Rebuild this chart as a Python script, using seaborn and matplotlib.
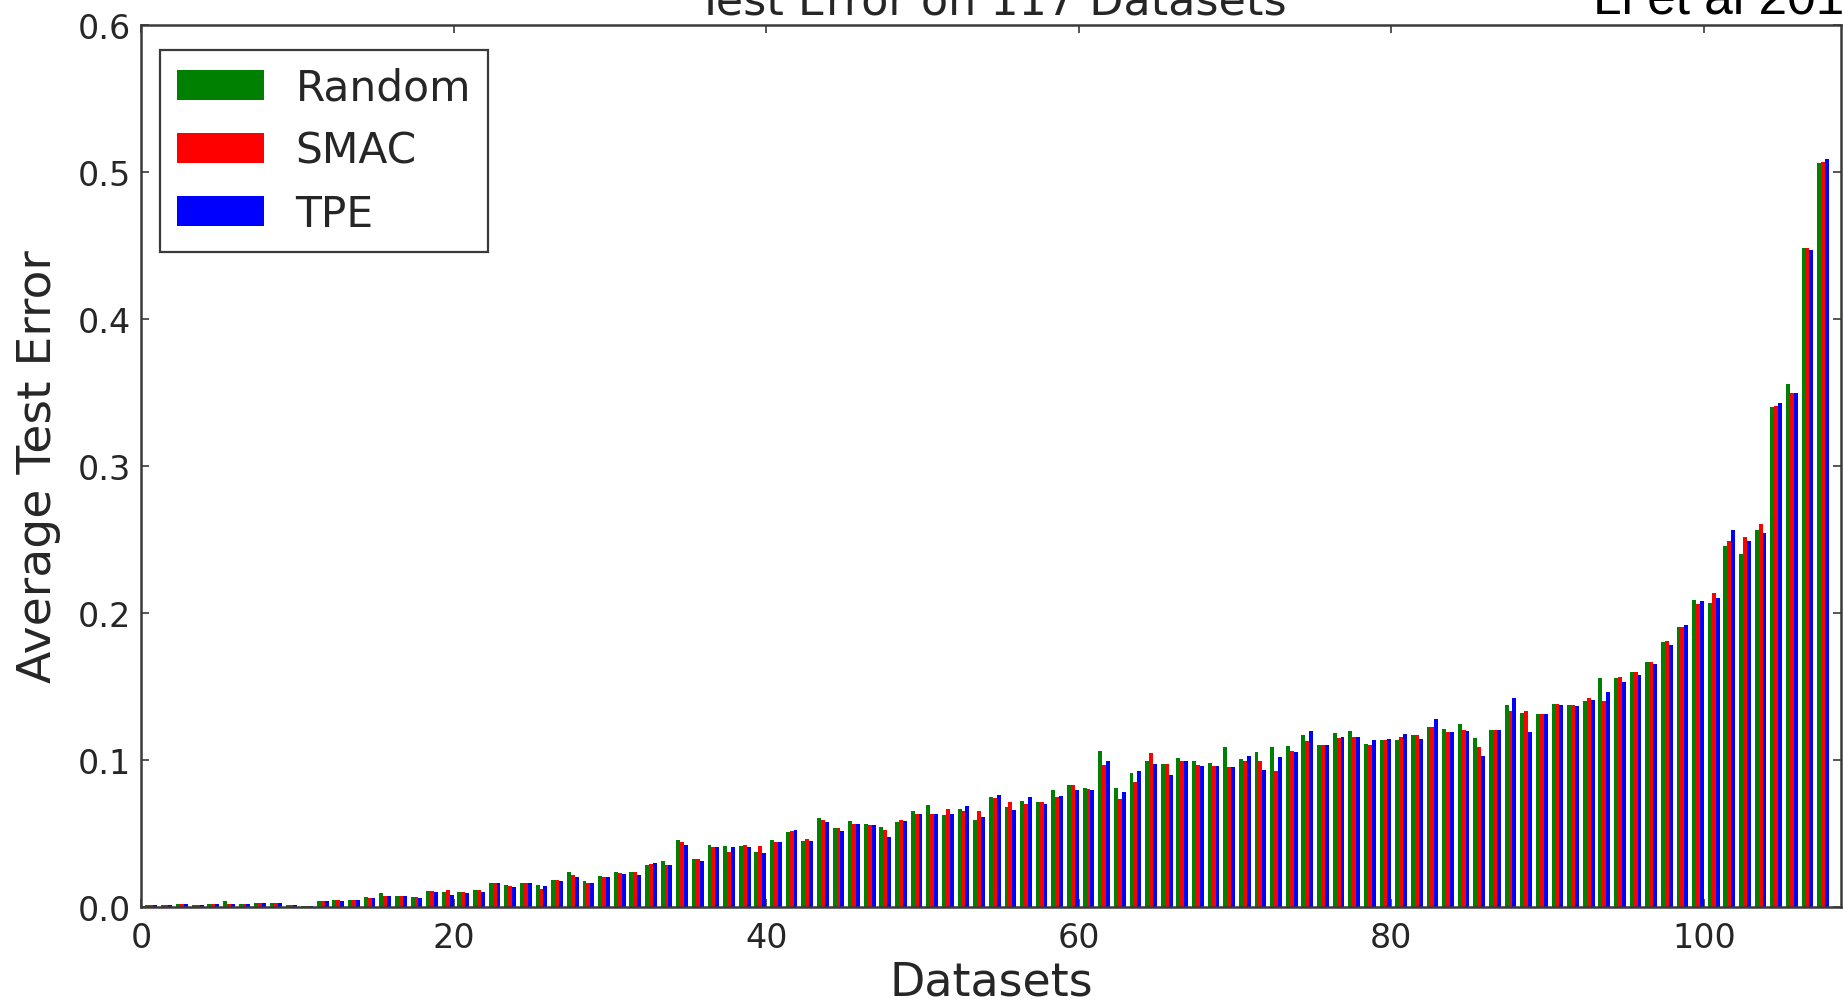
import numpy as np
import pandas as pd
import matplotlib
matplotlib.use("Agg")
import matplotlib.pyplot as plt
import seaborn as sns

# ---------------- data ----------------
methods = ["Random", "SMAC", "TPE"]
colors = ["#008000", "#ff0000", "#0000ff"]
dataset_idx = list(range(1, 109))

random_err = [
    0.0015, 0.0015, 0.002, 0.0012, 0.002, 0.004, 0.0018, 0.003, 0.003, 0.0015,
    0.001, 0.004, 0.0045, 0.0045, 0.0065, 0.0098, 0.0075, 0.007, 0.011, 0.0105,
    0.0102, 0.0116, 0.016, 0.0152, 0.0164, 0.0148, 0.0186, 0.0239, 0.0177, 0.021,
    0.0239, 0.0239, 0.0284, 0.0316, 0.0455, 0.0325, 0.042, 0.0416, 0.0416, 0.0375,
    0.0455, 0.0507, 0.045, 0.0605, 0.0536, 0.0586, 0.0564, 0.0545, 0.058, 0.065,
    0.0695, 0.0627, 0.0664, 0.0595, 0.0745, 0.0682, 0.0723, 0.0711, 0.0795, 0.0832,
    0.0809, 0.106, 0.0809, 0.0909, 0.0995, 0.0973, 0.1014, 0.0995, 0.0977, 0.1086,
    0.1007, 0.1052, 0.1086, 0.1095, 0.117, 0.1105, 0.1182, 0.1195, 0.111, 0.1136,
    0.1136, 0.117, 0.1227, 0.1209, 0.1243, 0.1152, 0.1205, 0.1375, 0.1318, 0.1311,
    0.138, 0.1375, 0.1402, 0.1561, 0.1561, 0.1598, 0.167, 0.1802, 0.1902, 0.209,
    0.207, 0.2456, 0.2404, 0.2566, 0.340, 0.356, 0.448, 0.506,
]
smac_err = [
    0.0015, 0.0015, 0.002, 0.0012, 0.002, 0.002, 0.0018, 0.003, 0.003, 0.0015,
    0.001, 0.004, 0.0045, 0.0045, 0.006, 0.0075, 0.0078, 0.0068, 0.011, 0.0116,
    0.0102, 0.0114, 0.0166, 0.0143, 0.0166, 0.0125, 0.0186, 0.022, 0.0166, 0.0205,
    0.0234, 0.0239, 0.0295, 0.0284, 0.0439, 0.0325, 0.041, 0.0375, 0.042, 0.0415,
    0.0439, 0.0514, 0.0461, 0.0591, 0.0536, 0.0564, 0.0559, 0.0523, 0.059, 0.0636,
    0.0632, 0.0666, 0.065, 0.065, 0.0741, 0.0711, 0.07, 0.0711, 0.075, 0.083,
    0.0802, 0.0968, 0.0734, 0.0848, 0.1045, 0.0973, 0.0991, 0.0968, 0.0961, 0.095,
    0.0995, 0.0995, 0.0927, 0.1064, 0.1132, 0.1105, 0.115, 0.1155, 0.110, 0.1138,
    0.1159, 0.117, 0.1227, 0.1193, 0.1205, 0.1091, 0.1205, 0.1334, 0.133, 0.1311,
    0.138, 0.1375, 0.142, 0.1398, 0.1568, 0.1602, 0.167, 0.1811, 0.1902, 0.206,
    0.2136, 0.249, 0.252, 0.2606, 0.341, 0.350, 0.448, 0.507,
]
tpe_err = [
    0.0015, 0.0015, 0.002, 0.0012, 0.002, 0.0022, 0.0018, 0.0028, 0.0028, 0.0015,
    0.001, 0.0038, 0.0042, 0.0045, 0.006, 0.0075, 0.0075, 0.006, 0.0105, 0.008,
    0.0098, 0.0102, 0.016, 0.0136, 0.0166, 0.0143, 0.018, 0.0205, 0.0166, 0.0205,
    0.0227, 0.022, 0.03, 0.0289, 0.0425, 0.0311, 0.0407, 0.041, 0.041, 0.037,
    0.0445, 0.0523, 0.045, 0.0575, 0.0514, 0.0564, 0.0559, 0.0473, 0.0586, 0.0632,
    0.0632, 0.0632, 0.0684, 0.0609, 0.0764, 0.0659, 0.075, 0.07, 0.0757, 0.0795,
    0.0795, 0.0995, 0.0784, 0.0927, 0.0973, 0.09, 0.0991, 0.0961, 0.0957, 0.095,
    0.103, 0.0932, 0.1023, 0.1052, 0.1195, 0.1105, 0.1155, 0.1159, 0.1138, 0.1143,
    0.1175, 0.1143, 0.1277, 0.1193, 0.1198, 0.103, 0.1205, 0.142, 0.1193, 0.1311,
    0.1375, 0.1364, 0.1409, 0.1461, 0.1534, 0.1575, 0.1652, 0.1784, 0.1916, 0.208,
    0.210, 0.2568, 0.249, 0.2544, 0.343, 0.350, 0.447, 0.509,
]
xticks = [0, 20, 40, 60, 80, 100]
yticks = [0.0, 0.1, 0.2, 0.3, 0.4, 0.5, 0.6]

# ---------------- build long table ----------------
group_width = 0.75
n = len(dataset_idx)
df = pd.DataFrame({
    "pos": np.tile(np.array(dataset_idx, dtype=float) - group_width / 2, 3),
    "err": random_err + smac_err + tpe_err,
    "method": np.repeat(methods, n),
})

# ---------------- style ----------------
sns.set_theme(style="ticks")
plt.rcParams["font.family"] = ["DejaVu Sans"]
text_col = "#262626"
spine_col = "#3a3a3a"

fig = plt.figure(figsize=(18.43, 10.04), dpi=100)
ax = fig.add_axes([141 / 1843, 1 - 908 / 1004, 1700 / 1843, (908 - 26) / 1004])

sns.barplot(data=df, x="pos", y="err", hue="method", hue_order=methods,
            palette=dict(zip(methods, colors)), native_scale=True,
            width=group_width, dodge=True, errorbar=None, saturation=1,
            linewidth=0, ax=ax)

ax.set_xlim(0, 108.77)
ax.set_ylim(0, 0.6)
ax.set_xticks(xticks)
ax.set_xticklabels([str(t) for t in xticks])
ax.set_yticks(yticks)
ax.set_yticklabels([f"{t:.1f}" for t in yticks])

for s in ax.spines.values():
    s.set_visible(True)
    s.set_color(spine_col)
    s.set_linewidth(1.8)

ax.tick_params(direction="in", top=True, right=True, length=6, width=1.2,
               color=spine_col, labelsize=24, labelcolor=text_col, pad=7)
ax.tick_params(axis="x", pad=10)

ax.set_xlabel("Datasets", fontsize=33, color=text_col, labelpad=4)
ax.set_ylabel("Average Test Error", fontsize=34, color=text_col, labelpad=12)
ax.set_title("Test Error on 117 Datasets", fontsize=32, color=text_col, pad=8)

fig.text(1593 / 1843, 1 - 14 / 1004, "Li et al 2016", fontsize=37,
         color="black", family=["Liberation Sans", "DejaVu Sans"],
         ha="left", va="baseline")

handles, labels = ax.get_legend_handles_labels()
ax.legend(handles, labels, loc="upper left", bbox_to_anchor=(0.0112, 0.972),
          fontsize=30.5, frameon=True, fancybox=False, framealpha=1,
          edgecolor=spine_col, handlelength=2.05, handleheight=0.7,
          labelspacing=0.5, borderaxespad=0, borderpad=0.4,
          handletextpad=0.75)
ax.get_legend().get_frame().set_linewidth(1.6)
for t in ax.get_legend().get_texts():
    t.set_color(text_col)

fig.savefig("out.png", dpi=100)
